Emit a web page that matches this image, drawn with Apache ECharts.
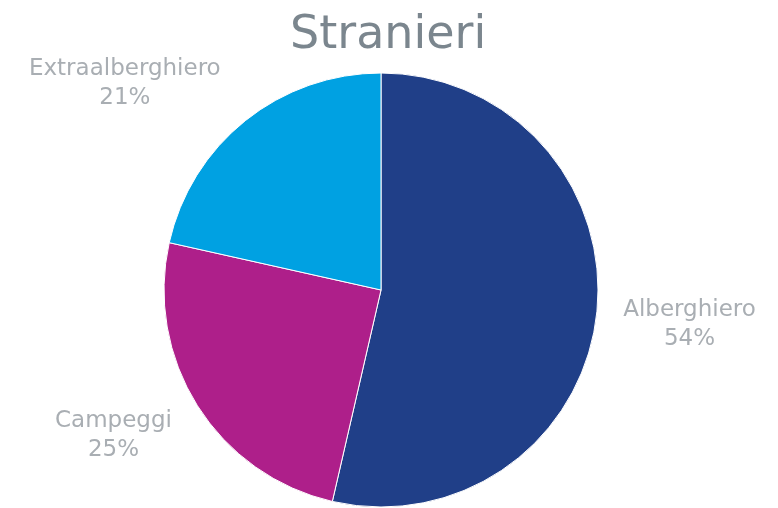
<!DOCTYPE html>
<html>
<head>
<meta charset="utf-8">
<script src="https://cdn.jsdelivr.net/npm/echarts@6/dist/echarts.min.js"></script>
<style>
  html, body { margin: 0; padding: 0; background: #fff; }
  #chart { width: 778px; height: 508px; }
</style>
</head>
<body>
<div id="chart"></div>
<script>
// dati
var categories = ['Alberghiero', 'Campeggi', 'Extraalberghiero'];
var values = [53.6, 24.9, 21.5];
var colors = ['#203f88', '#ae1f8a', '#00a1e2'];

var data = categories.map(function (name, i) {
  return { name: name, value: values[i], itemStyle: { color: colors[i] } };
});

// spostamento etichette (stile)
var labelShift = [[68, 8], [-62, 19], [-103, -22]];

var option = {
  animation: false,
  title: {
    text: 'Stranieri',
    left: 285,
    top: 8,
    textStyle: {
      fontFamily: 'DejaVu Sans',
      fontWeight: 'normal',
      fontSize: 46,
      color: '#7b868e'
    }
  },
  series: [
    {
      type: 'pie',
      center: [381, 290],
      radius: 217,
      startAngle: 90,
      clockwise: true,
      percentPrecision: 0,
      itemStyle: { borderColor: '#fff', borderWidth: 1 },
      label: {
        show: true,
        position: 'outside',
        formatter: '{b}\n{d}%',
        fontFamily: 'DejaVu Sans',
        fontSize: 23,
        lineHeight: 29,
        color: '#a9aeb3'
      },
      labelLine: { show: false, length: 20, length2: 0 },
      labelLayout: function (params) {
        var s = labelShift[params.dataIndex];
        return { align: 'center', dx: s[0], dy: s[1] };
      },
      data: data
    }
  ]
};

var myChart = echarts.init(document.getElementById('chart'));
myChart.setOption(option);
window.addEventListener('resize', function () {
  myChart.resize();
});
</script>
</body>
</html>
